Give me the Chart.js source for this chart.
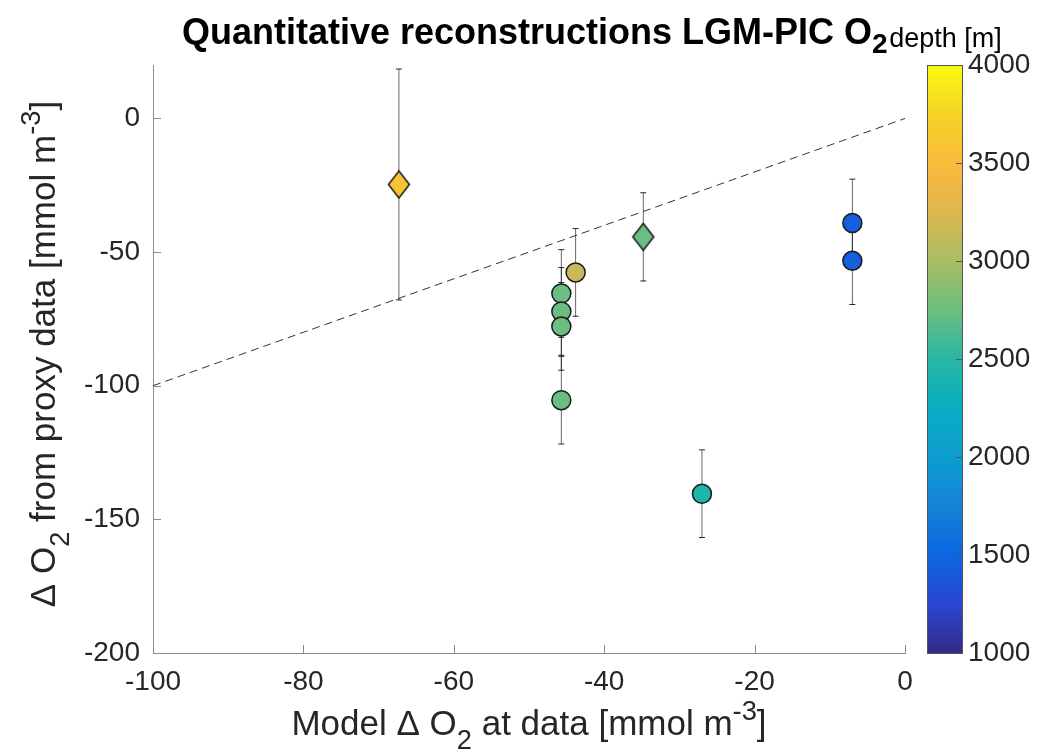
<!DOCTYPE html>
<html>
<head>
<meta charset="utf-8">
<title>Quantitative reconstructions LGM-PIC O2</title>
<script src="https://cdn.jsdelivr.net/npm/chart.js@4.4.1/dist/chart.umd.min.js"></script>
<style>
  body { margin: 0; background: #fff; }
  #wrap { width: 1037px; height: 756px; }
</style>
</head>
<body>
<div id="wrap"><canvas id="chart" width="1037" height="756"></canvas></div>
<script>
// DATA

// ticks
const xTicks = [-100, -80, -60, -40, -20, 0];
const yTicks = [-200, -150, -100, -50, 0];
const depthTicks = [1000, 1500, 2000, 2500, 3000, 3500, 4000];

// circle sites
const circleX = [-45.7, -45.7, -45.7, -45.7, -43.8, -27.0, -7.0, -7.0];
const circleY = [-65.5, -72.2, -77.8, -105.4, -57.6, -140.4, -39.1, -53.2];
const circleErr = [16.4, 16.4, 16.4, 16.4, 16.4, 16.4, 16.4, 16.4];
const circleDepth = [2740, 2740, 2740, 2740, 3160, 2430, 1440, 1440];

// diamond sites
const diamondX = [-67.3, -34.8];
const diamondY = [-24.7, -44.3];
const diamondErr = [43.2, 16.5];
const diamondDepth = [3590, 2740];

// 1:1 line
const lineX = [-100, 0];
const lineY = [-100, 0];

// parula-ish colormap
const parula = [
  [0.00, [53, 42, 135]],
  [0.08, [43, 69, 207]],
  [0.17, [10, 104, 224]],
  [0.25, [20, 130, 216]],
  [0.33, [14, 156, 208]],
  [0.42, [8, 174, 192]],
  [0.50, [40, 183, 164]],
  [0.58, [106, 190, 128]],
  [0.67, [170, 189, 99]],
  [0.75, [221, 183, 78]],
  [0.83, [251, 186, 61]],
  [0.92, [244, 212, 38]],
  [1.00, [249, 251, 14]]
];
const depthMin = 1000, depthMax = 4000;

function rgb(c) { return 'rgb(' + c.map(Math.round).join(',') + ')'; }

function depthColor(d) {
  const t = Math.min(1, Math.max(0, (d - depthMin) / (depthMax - depthMin)));
  for (let i = 1; i < parula.length; i++) {
    if (t <= parula[i][0]) {
      const [t0, c0] = parula[i - 1];
      const [t1, c1] = parula[i];
      const f = (t - t0) / (t1 - t0);
      return rgb(c0.map((v, k) => v + (c1[k] - v) * f));
    }
  }
  return rgb(parula[parula.length - 1][1]);
}

// matlab diamond is taller than wide, so make it as a little canvas
function makeDiamond(color) {
  const c = document.createElement('canvas');
  c.width = 24; c.height = 30;
  const g = c.getContext('2d');
  g.beginPath();
  g.moveTo(12, 1.5); g.lineTo(22.5, 15); g.lineTo(12, 28.5); g.lineTo(1.5, 15);
  g.closePath();
  g.fillStyle = color; g.fill();
  g.lineWidth = 1.5; g.strokeStyle = '#1a1a1a'; g.stroke();
  return c;
}

const FONT = '"Liberation Sans", Arial, Helvetica, sans-serif';
const TXT = '#262626';
const AXIS = '#8c8c8c';
Chart.defaults.font.family = FONT;

// text with sub / superscripts
const SCRIPT = 0.78;
function richWidth(ctx, parts, size, weight) {
  let w = 0;
  parts.forEach(p => {
    const s = p.k === 'n' ? size : size * SCRIPT;
    ctx.font = weight + ' ' + s + 'px ' + FONT;
    w += ctx.measureText(p.t).width;
  });
  return w;
}
function drawRich(ctx, parts, x, y, size, weight, subShift) {
  let cx = x;
  parts.forEach(p => {
    const s = p.k === 'n' ? size : size * SCRIPT;
    ctx.font = weight + ' ' + s + 'px ' + FONT;
    let dy = 0;
    if (p.k === 'sub') dy = size * subShift;
    if (p.k === 'sup') dy = -size * 0.42;
    ctx.fillText(p.t, cx, y + dy);
    cx += ctx.measureText(p.t).width;
  });
}

const titleParts = [{t: 'Quantitative reconstructions LGM-PIC O', k: 'n'}, {t: '2', k: 'sub'}];
const xLabelParts = [{t: 'Model \u0394 O', k: 'n'}, {t: '2', k: 'sub'}, {t: ' at data [mmol m', k: 'n'}, {t: '-3', k: 'sup'}, {t: ']', k: 'n'}];
const yLabelParts = [{t: '\u0394 O', k: 'n'}, {t: '2', k: 'sub'}, {t: ' from proxy data [mmol m', k: 'n'}, {t: '-3', k: 'sup'}, {t: ']', k: 'n'}];

const labelsPlugin = {
  id: 'labels',
  afterDraw(chart) {
    const {ctx, chartArea: a} = chart;
    ctx.save();
    ctx.fillStyle = '#000';
    ctx.textBaseline = 'alphabetic';
    ctx.textAlign = 'left';
    // title
    drawRich(ctx, titleParts, 182, 44, 36, 'bold', 0.24);
    // x label
    ctx.fillStyle = TXT;
    const xw = richWidth(ctx, xLabelParts, 35, 'normal');
    drawRich(ctx, xLabelParts, (a.left + a.right) / 2 - xw / 2, 735, 35, 'normal', 0.4);
    // y label
    const yw = richWidth(ctx, yLabelParts, 35, 'normal');
    ctx.translate(55, 354);
    ctx.rotate(-Math.PI / 2);
    drawRich(ctx, yLabelParts, -yw / 2, 0, 35, 'normal', 0.4);
    ctx.restore();
  }
};

const axisTicks = {
  id: 'axisTicks',
  afterDraw(chart) {
    const {ctx, chartArea: a, scales: {x, y}} = chart;
    ctx.save();
    ctx.strokeStyle = AXIS;
    ctx.lineWidth = 1;
    xTicks.forEach(v => {
      const px = Math.round(x.getPixelForValue(v)) + 0.5;
      ctx.beginPath(); ctx.moveTo(px, a.bottom); ctx.lineTo(px, a.bottom - 8); ctx.stroke();
    });
    yTicks.forEach(v => {
      const py = Math.round(y.getPixelForValue(v)) + 0.5;
      ctx.beginPath(); ctx.moveTo(a.left, py); ctx.lineTo(a.left + 8, py); ctx.stroke();
    });
    ctx.restore();
  }
};

// error bars go under the markers
const errorBars = {
  id: 'errorBars',
  beforeDatasetsDraw(chart) {
    const {ctx, scales: {x, y}} = chart;
    const draw = (xs, ys, es) => {
      xs.forEach((xv, i) => {
        const px = x.getPixelForValue(xv);
        const top = y.getPixelForValue(ys[i] + es[i]);
        const bot = y.getPixelForValue(ys[i] - es[i]);
        ctx.strokeStyle = 'rgba(0,0,0,0.6)';
        ctx.beginPath(); ctx.moveTo(px, top); ctx.lineTo(px, bot); ctx.stroke();
        ctx.strokeStyle = 'rgba(0,0,0,0.85)';
        ctx.beginPath();
        ctx.moveTo(px - 3, top); ctx.lineTo(px + 3, top);
        ctx.moveTo(px - 3, bot); ctx.lineTo(px + 3, bot);
        ctx.stroke();
      });
    };
    ctx.save();
    ctx.lineWidth = 1;
    draw(circleX, circleY, circleErr);
    draw(diamondX, diamondY, diamondErr);
    ctx.restore();
  }
};

const colorbar = {
  id: 'colorbar',
  afterDraw(chart) {
    const {ctx} = chart;
    const cb = chart.scales.cb;
    const top = cb.getPixelForValue(depthMax);
    const bot = cb.getPixelForValue(depthMin);
    const left = 927, w = 35;
    const g = ctx.createLinearGradient(0, bot, 0, top);
    parula.forEach(s => g.addColorStop(s[0], rgb(s[1])));
    ctx.save();
    ctx.fillStyle = g;
    ctx.fillRect(left, top, w, bot - top);
    ctx.strokeStyle = '#555';
    ctx.lineWidth = 1;
    ctx.strokeRect(left + 0.5, top + 0.5, w, bot - top);
    depthTicks.forEach(v => {
      const py = Math.round(cb.getPixelForValue(v)) + 0.5;
      ctx.beginPath(); ctx.moveTo(left + w, py); ctx.lineTo(left + w - 6, py); ctx.stroke();
    });
    // colorbar label
    ctx.fillStyle = '#000';
    ctx.font = 'normal 27px ' + FONT;
    ctx.textAlign = 'center';
    ctx.textBaseline = 'alphabetic';
    ctx.fillText('depth [m]', left + w / 2 + 1, 47);
    ctx.restore();
  }
};

const tickFont = {size: 28, family: FONT};
// no extra room for overhanging tick labels, the layout is pinned by hand
function noPad(s) { s.paddingTop = 0; s.paddingBottom = 0; s.paddingLeft = 0; s.paddingRight = 0; }

const ctx = document.getElementById('chart').getContext('2d');
const myChart = new Chart(ctx, {
  type: 'scatter',
  data: {
    datasets: [
      {
        label: 'circles',
        data: circleX.map((v, i) => ({x: v, y: circleY[i]})),
        pointStyle: 'circle',
        pointRadius: 9.5,
        pointBorderWidth: 1.5,
        pointBackgroundColor: circleDepth.map(depthColor),
        pointBorderColor: '#1a1a1a',
        order: 0
      },
      {
        label: 'diamonds',
        data: diamondX.map((v, i) => ({x: v, y: diamondY[i]})),
        pointStyle: diamondDepth.map(d => makeDiamond(depthColor(d))),
        pointRadius: 12,
        order: 1
      },
      {
        label: '1:1',
        data: lineX.map((v, i) => ({x: v, y: lineY[i]})),
        showLine: true,
        borderColor: '#333',
        borderWidth: 1,
        borderDash: [8, 5],
        pointRadius: 0,
        order: 2
      }
    ]
  },
  options: {
    responsive: false,
    animation: false,
    events: [],
    layout: {padding: {top: 65, left: 0, right: 0, bottom: 0}},
    plugins: {
      legend: {display: false},
      tooltip: {enabled: false},
      title: {display: false}
    },
    scales: {
      x: {
        type: 'linear', position: 'bottom', min: -100, max: 0,
        grid: {display: false, drawTicks: false},
        border: {display: true, color: AXIS, width: 1},
        ticks: {font: tickFont, color: TXT, padding: 12, maxRotation: 0, autoSkip: false,
          callback: v => String(v)},
        afterBuildTicks: s => { s.ticks = xTicks.map(v => ({value: v})); },
        afterFit: s => { s.height = 103; noPad(s); }
      },
      y: {
        type: 'linear', position: 'left', min: -200, max: 20,
        grid: {display: false, drawTicks: false},
        border: {display: true, color: AXIS, width: 1},
        ticks: {font: tickFont, color: TXT, padding: 13, autoSkip: false,
          callback: v => String(v)},
        afterBuildTicks: s => { s.ticks = yTicks.map(v => ({value: v})); },
        afterFit: s => { s.width = 153; noPad(s); }
      },
      cb: {
        type: 'linear', position: 'right', min: depthMin, max: depthMax,
        grid: {display: false, drawTicks: false},
        border: {display: false},
        ticks: {font: tickFont, color: TXT, padding: 63, autoSkip: false,
          callback: v => String(v)},
        afterBuildTicks: s => { s.ticks = depthTicks.map(v => ({value: v})); },
        afterFit: s => { s.width = 132; noPad(s); }
      }
    }
  },
  plugins: [errorBars, axisTicks, colorbar, labelsPlugin]
});
</script>
</body>
</html>
